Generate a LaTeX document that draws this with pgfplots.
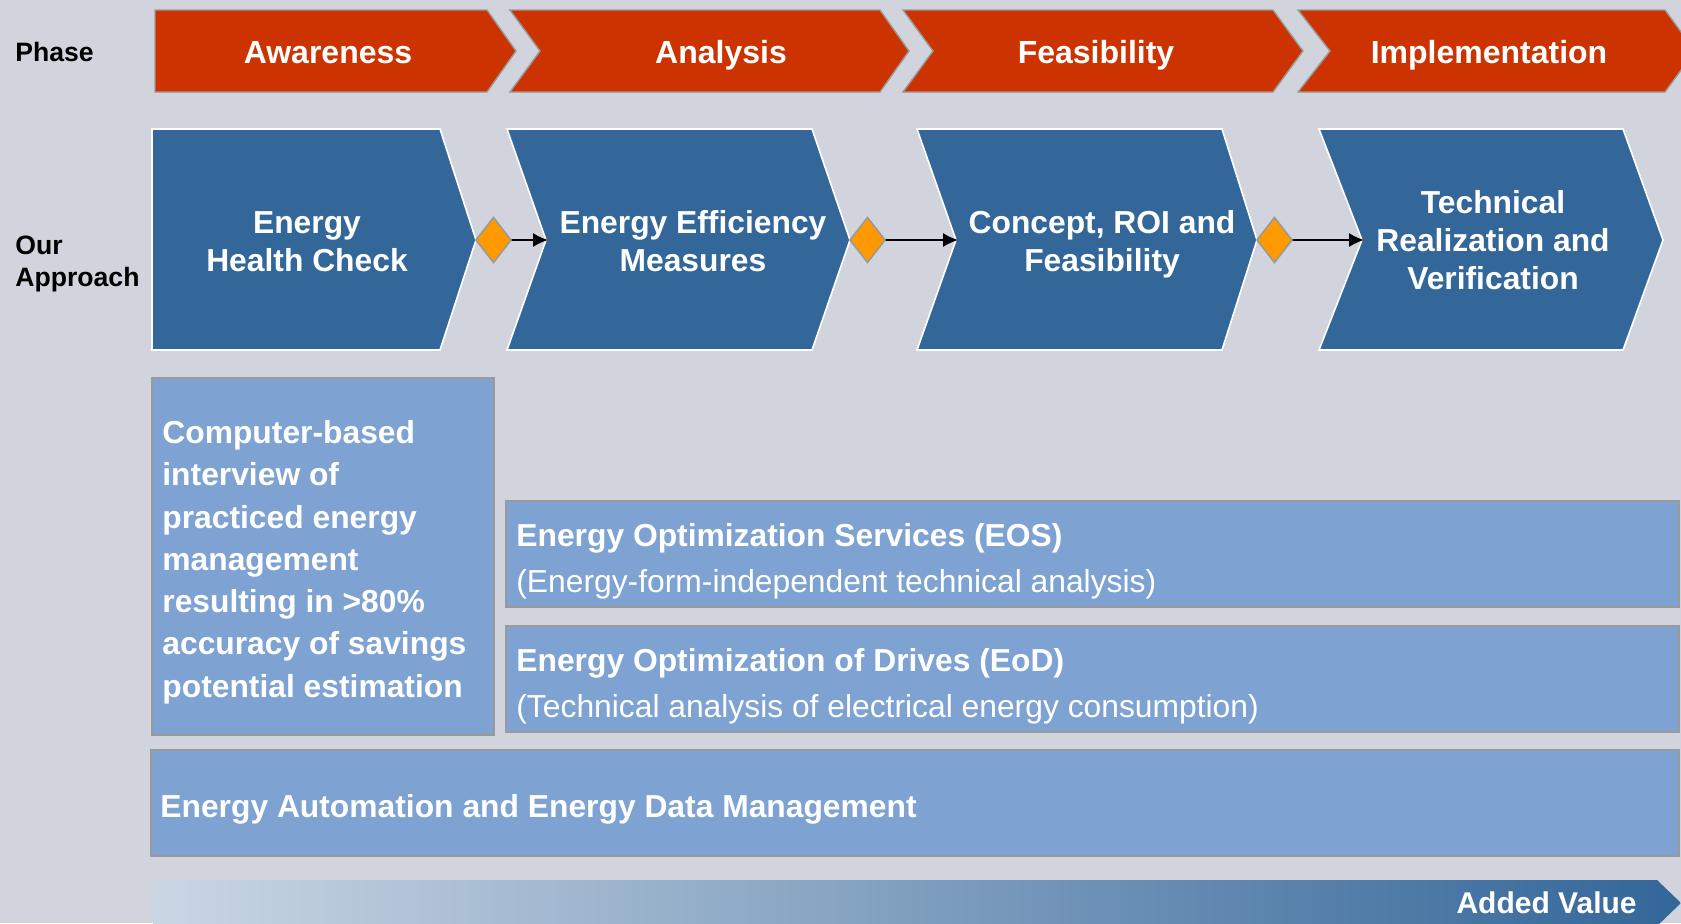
\documentclass[border=0pt]{standalone}
\usepackage{fontspec}
\setmainfont{Liberation Sans}
\usepackage{pgfplots}
\pgfplotsset{compat=1.18}
\usetikzlibrary{arrows.meta}
\definecolor{bg}{HTML}{D1D4DC}
\definecolor{phred}{HTML}{CC3300}
\definecolor{apblue}{HTML}{336699}
\definecolor{boxblue}{HTML}{7EA2D2}
\definecolor{dia}{HTML}{FF9900}
\definecolor{edge}{HTML}{9A9A9A}
\definecolor{gradl}{HTML}{CAD6E4}
\begin{document}
\begin{tikzpicture}
\begin{axis}[width=840.5pt,height=461.5pt,scale only axis,
  xmin=0,xmax=1681,ymin=0,ymax=923,y dir=reverse,hide axis]
% background
\addplot[fill=bg,draw=none] coordinates {(0,0) (1681,0) (1681,923) (0,923)} -- cycle;
% phase chevrons
\addplot[fill=phred,draw=edge,line width=0.7pt] coordinates {(155,10) (487,10) (516,51) (487,92) (155,92)} -- cycle;
\addplot[fill=phred,draw=edge,line width=0.7pt] coordinates {(510,10) (880,10) (909,51) (880,92) (510,92) (540,51)} -- cycle;
\addplot[fill=phred,draw=edge,line width=0.7pt] coordinates {(903,10) (1273,10) (1303,51) (1273,92) (903,92) (933,51)} -- cycle;
\addplot[fill=phred,draw=edge,line width=0.7pt] coordinates {(1298,10) (1665,10) (1695,51) (1665,92) (1298,92) (1330,51)} -- cycle;
% approach chevrons
\addplot[fill=apblue,draw=white,line width=0.8pt] coordinates {(152,129) (440,129) (476,240) (440,350) (152,350)} -- cycle;
\addplot[fill=apblue,draw=white,line width=0.8pt] coordinates {(507,129) (812,129) (850,240) (812,350) (507,350) (546,240)} -- cycle;
\addplot[fill=apblue,draw=white,line width=0.8pt] coordinates {(917,129) (1222,129) (1257,240) (1222,350) (917,350) (956,240)} -- cycle;
\addplot[fill=apblue,draw=white,line width=0.8pt] coordinates {(1319,129) (1623,129) (1663,240) (1623,350) (1319,350) (1362,240)} -- cycle;
% arrows
\addplot[black,line width=0.8pt,-{Latex[length=7.5pt,width=7pt]}] coordinates {(505,240) (548,240)};
\addplot[black,line width=0.8pt,-{Latex[length=7.5pt,width=7pt]}] coordinates {(880,240) (958,240)};
\addplot[black,line width=0.8pt,-{Latex[length=7.5pt,width=7pt]}] coordinates {(1288,240) (1364,240)};
% diamonds
\addplot[fill=dia,draw=edge,line width=0.8pt] coordinates {(476,240) (493.5,217.5) (511,240) (493.5,262.5)} -- cycle;
\addplot[fill=dia,draw=edge,line width=0.8pt] coordinates {(850,240) (867.5,217.5) (885,240) (867.5,262.5)} -- cycle;
\addplot[fill=dia,draw=edge,line width=0.8pt] coordinates {(1257,240) (1274.5,217.5) (1292,240) (1274.5,262.5)} -- cycle;
% boxes
\addplot[fill=boxblue,draw=edge,line width=0.8pt] coordinates {(152,378) (494,378) (494,735) (152,735)} -- cycle;
\addplot[fill=boxblue,draw=edge,line width=0.8pt] coordinates {(506,501) (1679,501) (1679,607) (506,607)} -- cycle;
\addplot[fill=boxblue,draw=edge,line width=0.8pt] coordinates {(506,626) (1679,626) (1679,732) (506,732)} -- cycle;
\addplot[fill=boxblue,draw=edge,line width=0.8pt] coordinates {(151,750) (1679,750) (1679,856) (151,856)} -- cycle;
% added value arrow
\addplot[draw=none,left color=gradl,right color=apblue] coordinates {(153,880) (1657,880) (1681,903) (1657,926) (153,926)} -- cycle;

% texts
\tikzset{pt/.style={anchor=base,inner sep=0pt,white,font=\fontsize{16}{19}\selectfont\bfseries},
  ap/.style={anchor=base,inner sep=0pt,white,font=\fontsize{15.9}{19}\selectfont\bfseries},
  bx/.style={anchor=base west,inner sep=0pt,white,font=\fontsize{15.9}{19}\selectfont\bfseries},
  bxr/.style={anchor=base west,inner sep=0pt,white,font=\fontsize{15.9}{19}\selectfont},
  lb/.style={anchor=base west,inner sep=0pt,black,font=\fontsize{13.3}{16}\selectfont\bfseries}}
\node[lb] at (axis cs:15,61) {Phase};
\node[lb] at (axis cs:15,254) {Our};
\node[lb] at (axis cs:15,286) {Approach};
\node[pt] at (axis cs:328,63) {Awareness};
\node[pt] at (axis cs:721,63) {Analysis};
\node[pt] at (axis cs:1096,63) {Feasibility};
\node[pt] at (axis cs:1489,63) {Implementation};
\node[ap] at (axis cs:307,233) {Energy};
\node[ap] at (axis cs:307,271) {Health Check};
\node[ap] at (axis cs:693,233) {Energy Efficiency};
\node[ap] at (axis cs:693,271) {Measures};
\node[ap] at (axis cs:1102,233) {Concept, ROI and};
\node[ap] at (axis cs:1102,271) {Feasibility};
\node[ap] at (axis cs:1493,213) {Technical};
\node[ap] at (axis cs:1493,251) {Realization and};
\node[ap] at (axis cs:1493,289) {Verification};
\node[bx] at (axis cs:162,443) {Computer-based};
\node[bx] at (axis cs:162,485) {interview of};
\node[bx] at (axis cs:162,528) {practiced energy};
\node[bx] at (axis cs:162,570) {management};
\node[bx] at (axis cs:162,612) {resulting in >80\%};
\node[bx] at (axis cs:162,654) {accuracy of savings};
\node[bx] at (axis cs:162,697) {potential estimation};
\node[bx] at (axis cs:516,546) {Energy Optimization Services (EOS)};
\node[bxr] at (axis cs:516,592) {(Energy-form-independent technical analysis)};
\node[bx] at (axis cs:516,671) {Energy Optimization of Drives (EoD)};
\node[bxr] at (axis cs:516,717) {(Technical analysis of electrical energy consumption)};
\node[bx] at (axis cs:160,817) {Energy Automation and Energy Data Management};
\node[anchor=base east,inner sep=0pt,white,font=\fontsize{15}{18}\selectfont\bfseries] at (axis cs:1637,913) {Added Value};
\end{axis}
\end{tikzpicture}
\end{document}
